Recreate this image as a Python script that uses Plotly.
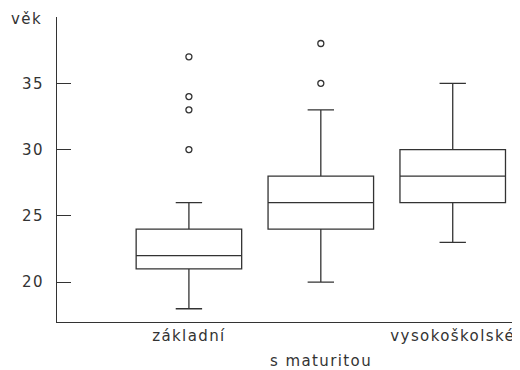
import plotly.graph_objects as go

categories = ["základní", "s maturitou", "vysokoškolské"]
second_row_label = "s maturitou"
q1 = [21, 24, 26]
median = [22, 26, 28]
q3 = [24, 28, 30]
lower_fence = [18, 20, 23]
upper_fence = [26, 33, 35]
outlier_cat = ["základní", "základní", "základní", "základní", "s maturitou", "s maturitou"]
outlier_val = [30, 33, 34, 37, 35, 38]
y_ticks = [20, 25, 30, 35]
y_title = "věk"

line_col = "#333333"
font = dict(family="DejaVu Sans", size=15, color="#333333")


def spaced(t):
    return f"<span style='letter-spacing:1.4px'>{t}</span>"


fig = go.Figure()
fig.add_trace(go.Box(
    x=categories, q1=q1, median=median, q3=q3,
    lowerfence=lower_fence, upperfence=upper_fence,
    width=0.8, whiskerwidth=0.25,
    fillcolor="rgba(0,0,0,0)",
    line=dict(color=line_col, width=1.3),
    boxpoints=False, showlegend=False, hoverinfo="skip",
))
fig.add_trace(go.Scatter(
    x=outlier_cat, y=outlier_val, mode="markers",
    marker=dict(symbol="circle-open", size=6, color=line_col, line=dict(width=1.3, color=line_col)),
    showlegend=False, hoverinfo="skip",
))

fig.update_layout(
    template="none",
    width=512, height=362,
    margin=dict(l=49, r=0, t=9, b=48, autoexpand=False),
    paper_bgcolor="white", plot_bgcolor="white",
    font=font,
    xaxis=dict(
        type="category", categoryorder="array", categoryarray=categories,
        range=[-1, 2.51], tickmode="array", tickvals=categories,
        ticktext=[spaced(c) if c != second_row_label else "" for c in categories],
        showline=True, linecolor=line_col, linewidth=1.3, automargin=False,
        ticks="", showgrid=False, zeroline=False, tickfont=font,
    ),
    yaxis=dict(
        range=[17, 40], tickmode="array", tickvals=y_ticks,
        ticktext=[spaced(v) for v in y_ticks], automargin=False,
        showline=True, linecolor=line_col, linewidth=1.3,
        ticks="inside", ticklen=14, tickwidth=1.3, tickcolor=line_col,
        showgrid=False, zeroline=False, tickfont=font, ticklabelstandoff=9,
    ),
    annotations=[
        dict(
            text=spaced(y_title), xref="paper", yref="paper", x=0, y=1,
            xanchor="right", yanchor="middle", xshift=-13, yshift=-2,
            showarrow=False, font=font,
        ),
        dict(
            text=spaced(second_row_label), xref="x", yref="paper", x=second_row_label, y=0,
            xanchor="center", yanchor="middle", yshift=-39,
            showarrow=False, font=font,
        ),
    ],
)

fig.write_html("out.html")
